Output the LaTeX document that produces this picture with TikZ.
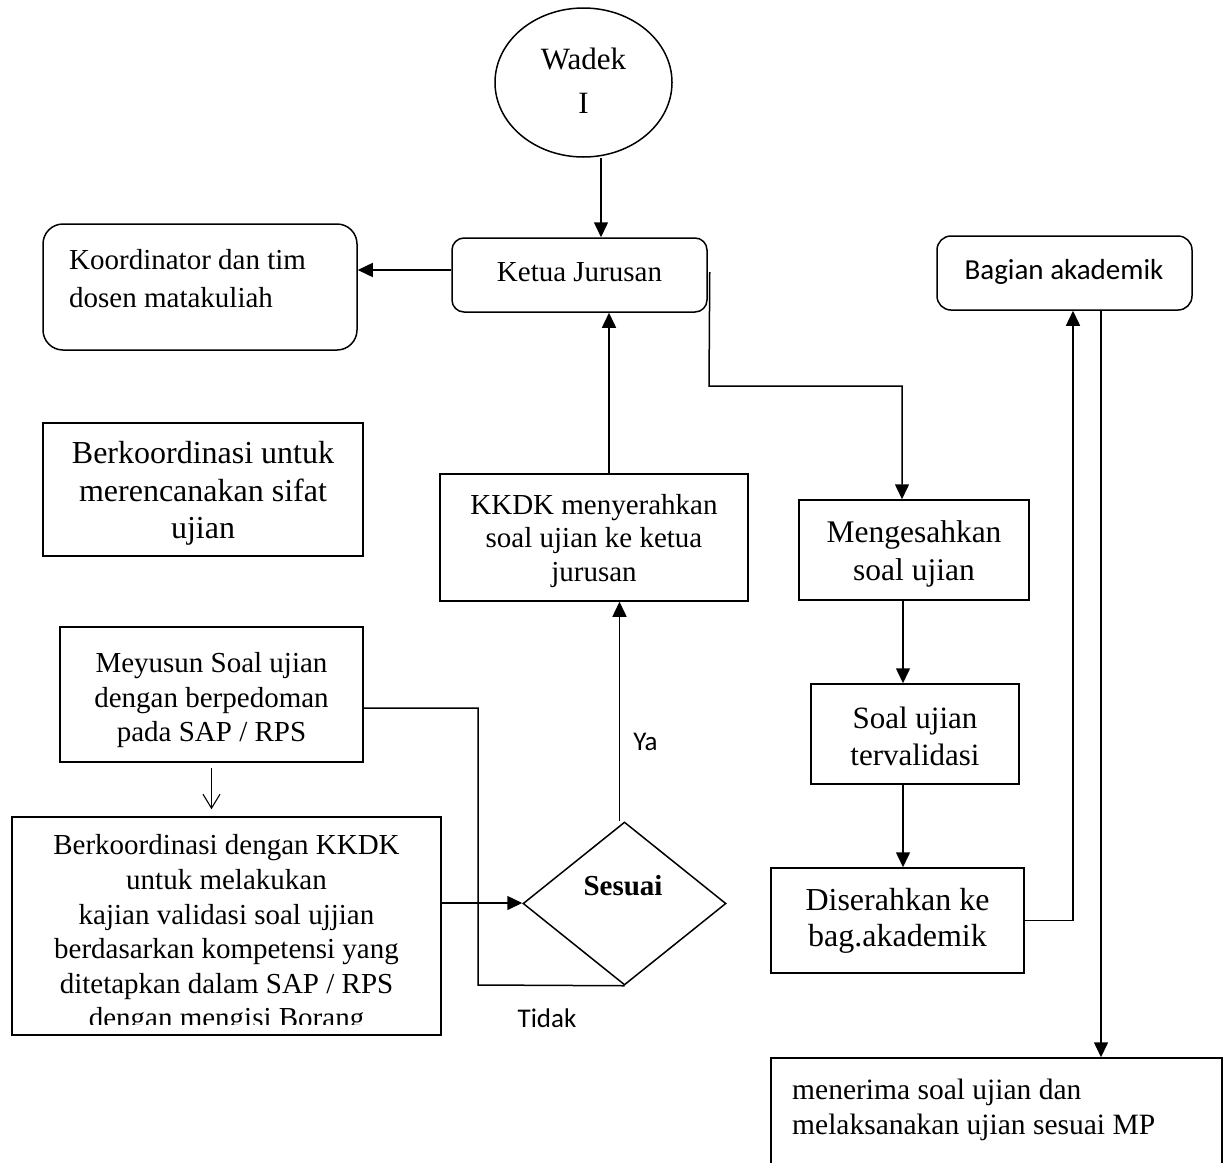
\documentclass[tikz,border=0pt]{standalone}
\usepackage{fontspec}
\setmainfont{Liberation Serif}
\newfontfamily\calibri{Carlito}
\usetikzlibrary{arrows.meta,shapes.geometric}
\begin{document}
\begin{tikzpicture}[x=1pt,y=-1pt]
\tikzset{
  box/.style={draw, line width=1.5pt, inner sep=0pt, align=center},
  rbox/.style={box, rounded corners=14pt},
  arr/.style={line width=1.5pt, -{Triangle[length=15pt,width=14pt]}},
  ln/.style={line width=1.5pt},
  oarr/.style={line width=1.1pt, -{Straight Barb[length=14pt,width=17pt]}},
  txt/.style={inner sep=0pt, align=center},
}
\useasboundingbox (0,0) rectangle (1223,1162);

% nodes
\node[draw, ellipse, line width=1.5pt, minimum width=177pt, minimum height=149pt, inner sep=0pt] (wadek) at (583.5,82.5) {};
\node[txt, font=\fontsize{31}{44}\selectfont] (wadektxt) at (583.5,81) {Wadek\\I};

\node[rbox, rounded corners=12pt, minimum width=255pt, minimum height=74pt] (ketua) at (579.5,275) {};
\node[txt, font=\fontsize{29}{34}\selectfont] (ketuatxt) at (579.5,272) {Ketua Jurusan};

\node[rbox, rounded corners=20pt, minimum width=314pt, minimum height=126pt] (koord) at (200,287) {};
\node[txt, anchor=west, align=left, font=\fontsize{29}{38}\selectfont] (koordtxt) at (69,279) {Koordinator dan tim\\dosen matakuliah};

\node[rbox, rounded corners=14pt, minimum width=255pt, minimum height=74pt] (bagian) at (1064.5,273) {};
\node[txt, font=\calibri\fontsize{29}{34}\selectfont] (bagiantxt) at (1064,272) {Bagian akademik};

\node[box, minimum width=320pt, minimum height=133pt] (berk1) at (203,489.5) {};
\node[txt, font=\fontsize{32}{37.5}\selectfont] (berk1txt) at (203,493.5) {Berkoordinasi untuk\\merencanakan sifat\\ujian};

\node[box, minimum width=308pt, minimum height=127pt] (kkdk) at (594,537.5) {};
\node[txt, font=\fontsize{29}{33.5}\selectfont] (kkdktxt) at (594,541) {KKDK menyerahkan\\soal ujian ke ketua\\jurusan};

\node[box, minimum width=230pt, minimum height=100pt] (sah) at (914,550) {};
\node[txt, font=\fontsize{31.5}{38}\selectfont] (sahtxt) at (914,553.5) {Mengesahkan\\soal ujian};

\node[box, minimum width=208pt, minimum height=100pt] (soal) at (915,734) {};
\node[txt, font=\fontsize{31}{37}\selectfont] (soaltxt) at (915,736) {Soal ujian\\tervalidasi};

\node[box, minimum width=253pt, minimum height=105pt] (dis) at (897.5,920.5) {};
\node[txt, font=\fontsize{32}{36}\selectfont] (distxt) at (897.5,920.5) {Diserahkan ke\\bag.akademik};

\node[box, minimum width=451pt, minimum height=150pt] (terima) at (996.5,1133) {};
\node[txt, anchor=west, align=left, font=\fontsize{29.5}{35}\selectfont] (terimatxt) at (792,1110) {menerima soal ujian dan\\melaksanakan ujian sesuai MP};

\node[box, minimum width=303pt, minimum height=135pt] (susun) at (211.5,694.5) {};
\node[txt, font=\fontsize{29}{34.5}\selectfont] (susuntxt) at (211.5,700.5) {Meyusun Soal ujian\\dengan berpedoman\\pada SAP / RPS};

\node[box, minimum width=429pt, minimum height=218pt] (berk2) at (226.5,926) {};
\begin{scope}
  \clip (12,817) rectangle (441,1024.5);
  \node[txt, font=\fontsize{29}{34.6}\selectfont] (berk2txt) at (226.5,934.5) {Berkoordinasi dengan KKDK\\untuk melakukan\\kajian validasi soal ujjian\\berdasarkan kompetensi yang\\ditetapkan dalam SAP / RPS\\dengan mengisi Borang};
\end{scope}

\node[draw, diamond, line width=1.5pt, inner sep=0pt, minimum width=203pt, minimum height=163pt] (ses) at (624.5,903.5) {};
\node[txt, font=\bfseries\fontsize{29}{34}\selectfont] (sestxt) at (623,886) {Sesuai};

\node[txt, font=\calibri\fontsize{27}{30}\selectfont] (ya) at (645.5,742) {Ya};
\node[txt, font=\calibri\fontsize{27}{30}\selectfont] (tidak) at (547,1018) {Tidak};

\coordinate (kj) at (709,386);
\coordinate (lp) at (478,985);

% connectors
\draw[arr] ([xshift=17.5pt]wadek.south) -- ([xshift=17.5pt]wadek.south |- ketua.north);
\draw[arr] ([yshift=5pt]ketua.west) -- ([yshift=5pt]ketua.west -| koord.east);
\draw[arr] ([xshift=2pt,yshift=3pt]ketua.east) -- (kj) -| ([xshift=-12pt]sah.north);
\draw[arr] ([xshift=15pt]kkdk.north) -- ([xshift=15pt]kkdk.north |- ketua.south);
\draw[arr] ([xshift=-5pt]ses.north) -- ([xshift=-5pt]ses.north |- kkdk.south);
\draw[ln] ([yshift=-13.5pt]susun.east) -| (lp) -- (ses.south);
\draw[arr] ([yshift=23pt]berk2.east) -- ([yshift=23pt]berk2.east -| ses.west);
\draw[oarr] ([yshift=-5pt]susun.south) -- ([yshift=7pt]susun.south |- berk2.north);
\draw[arr] ([xshift=-11pt]sah.south) -- ([xshift=-11pt]sah.south |- soal.north);
\draw[arr] ([xshift=-12pt]soal.south) -- ([xshift=-12pt]soal.south |- dis.north);
\draw[arr] (dis.east) -| ([xshift=8.5pt]bagian.south);
\draw[arr] ([xshift=36.5pt]bagian.south) -- ([xshift=36.5pt]bagian.south |- terima.north);
\end{tikzpicture}
\end{document}
